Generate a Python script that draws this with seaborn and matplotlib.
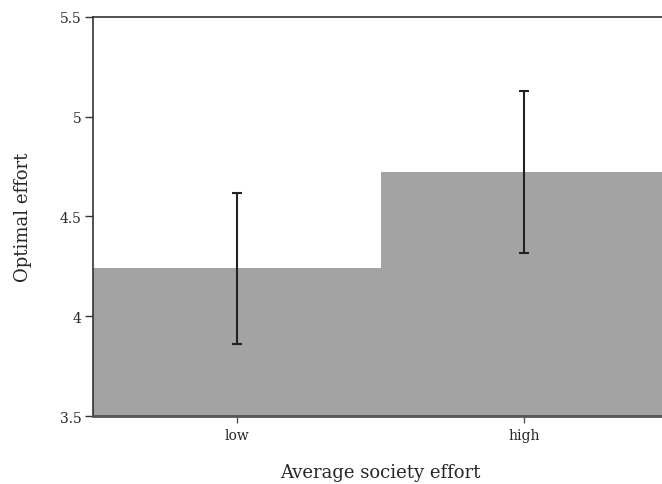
# bar chart with error bars

import seaborn as sns
import matplotlib.pyplot as plt

categories = ['low', 'high']
means = [4.243, 4.725]
ci_low = [3.862, 4.318]
ci_high = [4.620, 5.130]

sns.set_style('ticks')
plt.rcParams['font.family'] = ['DejaVu Serif']

fig = plt.figure(figsize=(6.62, 4.85), dpi=100)
ax = fig.add_axes([0.1405, 0.1402, 0.869, 0.8227])

sns.barplot(x=categories, y=means, color='#a3a3a3', saturation=1,
            width=1, errorbar=None, linewidth=0, ax=ax)
yerr = [[m - lo for m, lo in zip(means, ci_low)],
        [hi - m for m, hi in zip(means, ci_high)]]
ax.errorbar(range(len(categories)), means, yerr=yerr, fmt='none',
            ecolor='#222222', elinewidth=1.5, capsize=3.6, capthick=1.5)

ax.set_ylim(3.5, 5.5)
ax.set_xlim(-0.5, 1.5)
ax.set_yticks([3.5, 4, 4.5, 5, 5.5])
ax.set_yticklabels(['3.5', '4', '4.5', '5', '5.5'])
ax.tick_params(axis='y', labelsize=10, length=6, width=1, color='#333333', pad=2)
ax.tick_params(axis='x', labelsize=10, length=5, width=1, color='#555555')
for s in ['left', 'top']:
    ax.spines[s].set_color('#333333')
    ax.spines[s].set_linewidth(1.2)
ax.spines['bottom'].set_color('#555555')
ax.spines['bottom'].set_linewidth(2)
ax.spines['right'].set_visible(False)
ax.spines['top'].set_visible(True)

ax.set_xlabel('Average society effort', fontsize=13, labelpad=15)
ax.set_ylabel('Optimal effort', fontsize=13, labelpad=20)

plt.savefig('out.png', dpi=100)
